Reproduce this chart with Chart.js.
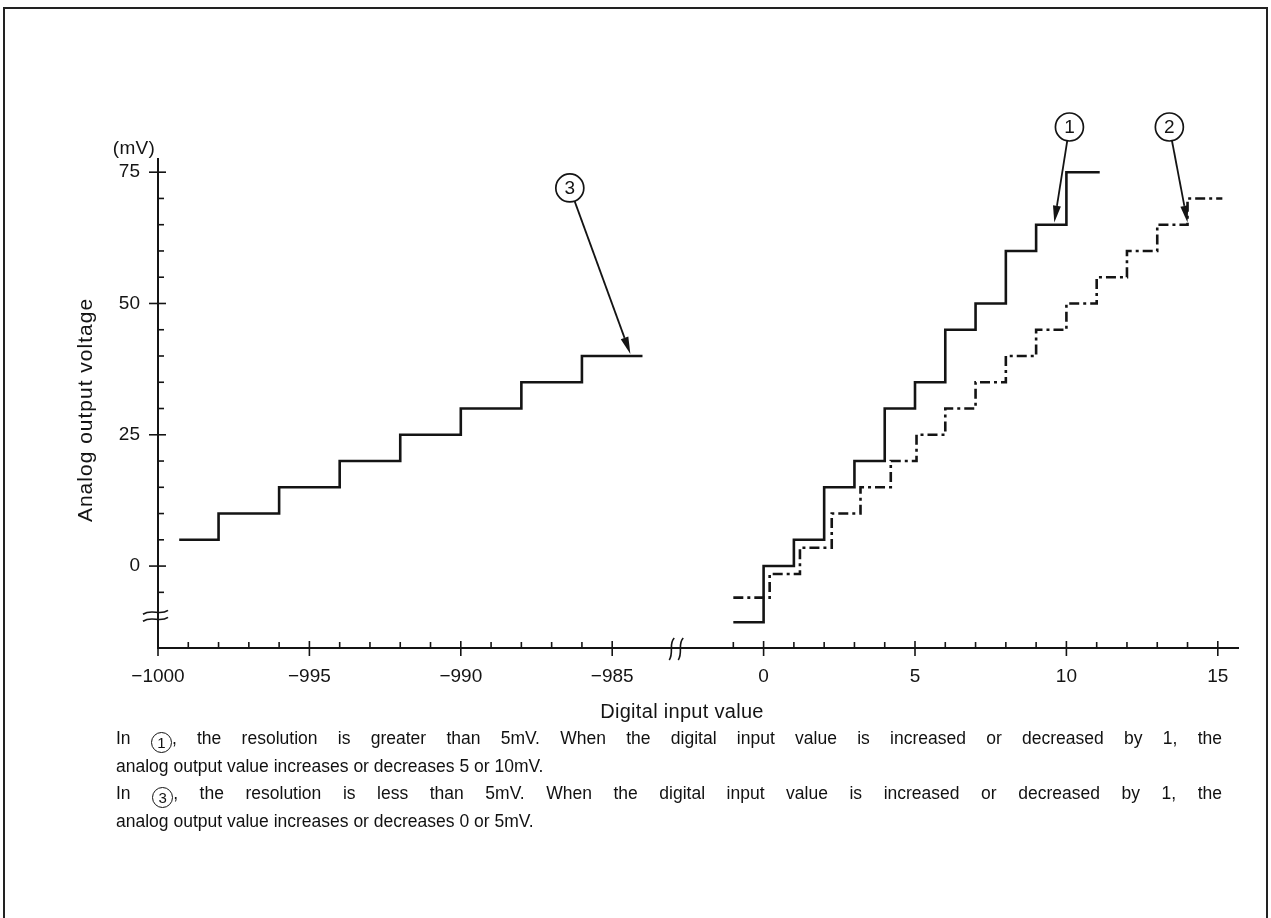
<!DOCTYPE html>
<html>
<head>
<meta charset="utf-8">
<script src="https://cdn.jsdelivr.net/npm/chart.js@4.4.1/dist/chart.umd.min.js"></script>
<style>
  html, body { margin: 0; padding: 0; background: #fff; }
  #page { position: relative; width: 1271px; height: 918px; overflow: hidden;
          font-family: 'Liberation Sans', Arial, sans-serif; color: #111; }
  #frame { position: absolute; left: 3px; top: 7px; width: 1265px; height: 940px;
           border: 2px solid #222; box-sizing: border-box; }
  #chart { position: absolute; left: 0; top: 0; }
  .note { position: absolute; left: 116px; width: 1106px; font-size: 17.5px; line-height: 26.5px; }
  .just { text-align: justify; text-align-last: justify; }
  .c { display: inline-block; width: 19px; height: 19px; border: 1.5px solid #111; border-radius: 50%;
       text-align: center; text-align-last: center; line-height: 20px; font-size: 15px; vertical-align: -4px; }
</style>
</head>
<body>
<div id="page">
  <div id="frame"></div>
  <canvas id="chart" width="1271" height="918"></canvas>
  <div class="note" style="top:725px">
    <div class="just">In <span class="c">1</span>, the resolution is greater than 5mV. When the digital input value is increased or decreased by 1, the</div>
    <div>analog output value increases or decreases 5 or 10mV.</div>
    <div class="just">In <span class="c">3</span>, the resolution is less than 5mV. When the digital input value is increased or decreased by 1, the</div>
    <div>analog output value increases or decreases 0 or 5mV.</div>
  </div>
</div>
<script>
// digital input value -> analog output (mV)
const line1X = [-1, 0, 1, 2, 3, 4, 5, 6, 7, 8, 9, 10, 11.1]
const line1Y = [-10.7, 0, 5, 15, 20, 30, 35, 45, 50, 60, 65, 75, 75]
const line2X = [-1, 0.2, 1.2, 2.25, 3.2, 4.2, 5.05, 6, 7, 8, 9, 10, 11, 12, 13, 14, 15.15]
const line2Y = [-6, -1.5, 3.5, 10, 15, 20, 25, 30, 35, 40, 45, 50, 55, 60, 65, 70, 70]
const line3X = [-999.3, -998, -996, -994, -992, -990, -988, -986, -984]
const line3Y = [5, 10, 15, 20, 25, 30, 35, 40, 40]

const xTickValues = [-1000, -995, -990, -985, 0, 5, 10, 15]
const yTickValues = [0, 25, 50, 75]

// callouts: number, circle centre, arrow tip (data units)
const markNums = ['1', '2', '3']
const markCircX = [10.1, 13.4, -986.4]
const markCircY = [83.6, 83.6, 72]
const markTipX = [9.6, 14.0, -984.4]
const markTipY = [65.4, 65.4, 40.4]

// the left block (-1000..-984) is drawn next to the right block, past the axis break
const SHIFT = 980
const toAxis = (v) => (v < -500 ? v + SHIFT : v)
const fromAxis = (u) => (u < -2.5 ? u - SHIFT : u)
const fmt = (v) => (v < 0 ? '\u2212' + Math.abs(v) : String(v))

const toPoints = (xs, ys) => xs.map((x, i) => ({ x: toAxis(x), y: ys[i] }))

const INK = '#141414'
const FONT = "'Liberation Sans', Arial, sans-serif"

const lineStyle = {
  borderColor: INK,
  borderWidth: 2.6,
  stepped: 'before',
  pointRadius: 0,
  fill: false,
  tension: 0,
}

const decorations = {
  id: 'decorations',
  afterDraw(chart) {
    const { ctx, chartArea } = chart
    const sx = chart.scales.x
    const sy = chart.scales.y
    const left = chartArea.left
    const bottom = chartArea.bottom
    ctx.save()
    ctx.strokeStyle = INK
    ctx.fillStyle = INK
    ctx.lineCap = 'butt'

    // axis lines
    ctx.lineWidth = 2
    ctx.beginPath()
    ctx.moveTo(left, chartArea.top)
    ctx.lineTo(left, bottom)
    ctx.lineTo(chartArea.right, bottom)
    ctx.stroke()

    // y ticks: majors cross the axis, minors inside
    ctx.lineWidth = 1.6
    for (let v = -5; v <= 75; v += 5) {
      const y = sy.getPixelForValue(v)
      const major = v % 25 === 0
      ctx.beginPath()
      ctx.moveTo(major ? left - 9 : left, y)
      ctx.lineTo(left + (major ? 8 : 6), y)
      ctx.stroke()
    }

    // x ticks
    const xMinor = []
    for (let v = -999; v <= -986; v++) xMinor.push(v)
    for (let v = -1; v <= 14; v++) xMinor.push(v)
    xMinor.forEach((v) => {
      if (v % 5 === 0) return
      const x = sx.getPixelForValue(toAxis(v))
      ctx.beginPath()
      ctx.moveTo(x, bottom)
      ctx.lineTo(x, bottom - 6)
      ctx.stroke()
    })
    xTickValues.forEach((v) => {
      const x = sx.getPixelForValue(toAxis(v))
      ctx.beginPath()
      ctx.moveTo(x, bottom - 7)
      ctx.lineTo(x, bottom + 8)
      ctx.stroke()
    })

    // y axis break
    ;[0, 7].forEach((dy) => {
      const y = sy.getPixelForValue(-8.8) + dy
      ctx.beginPath()
      ctx.moveTo(left - 15, y + 2)
      ctx.bezierCurveTo(left - 6, y - 4, left + 2, y + 4, left + 10, y - 2)
      ctx.stroke()
    })
    // x axis break
    const bx = sx.getPixelForValue(-3.05)
    ;[0, 9].forEach((dx) => {
      ctx.beginPath()
      ctx.moveTo(bx + dx + 3, bottom - 10)
      ctx.bezierCurveTo(bx + dx - 3, bottom - 4, bx + dx + 3, bottom + 4, bx + dx - 2, bottom + 12)
      ctx.stroke()
    })

    // callouts
    markNums.forEach((n, i) => {
      const cx = sx.getPixelForValue(toAxis(markCircX[i]))
      const cy = sy.getPixelForValue(markCircY[i])
      const tx = sx.getPixelForValue(toAxis(markTipX[i]))
      const ty = sy.getPixelForValue(markTipY[i])
      const r = 14
      ctx.lineWidth = 1.7
      ctx.beginPath()
      ctx.arc(cx, cy, r, 0, Math.PI * 2)
      ctx.stroke()
      ctx.font = '19px ' + FONT
      ctx.textAlign = 'center'
      ctx.textBaseline = 'middle'
      ctx.fillText(n, cx, cy + 1)
      const a = Math.atan2(ty - cy, tx - cx)
      const sxp = cx + Math.cos(a) * r
      const syp = cy + Math.sin(a) * r
      const hl = 17
      const hw = 4
      const bxp = tx - Math.cos(a) * hl
      const byp = ty - Math.sin(a) * hl
      ctx.lineWidth = 1.8
      ctx.beginPath()
      ctx.moveTo(sxp, syp)
      ctx.lineTo(bxp, byp)
      ctx.stroke()
      ctx.beginPath()
      ctx.moveTo(tx, ty)
      ctx.lineTo(bxp - Math.sin(a) * hw, byp + Math.cos(a) * hw)
      ctx.lineTo(bxp + Math.sin(a) * hw, byp - Math.cos(a) * hw)
      ctx.closePath()
      ctx.fill()
    })

    // titles
    ctx.textAlign = 'center'
    ctx.textBaseline = 'middle'
    ctx.font = '20px ' + FONT
    ctx.letterSpacing = '0.3px'
    ctx.fillText('Digital input value', 682, 712)
    ctx.font = '19px ' + FONT
    ctx.fillText('(mV)', 134, 149)
    ctx.translate(86, 410)
    ctx.rotate(-Math.PI / 2)
    ctx.font = '21px ' + FONT
    ctx.letterSpacing = '1px'
    ctx.fillText('Analog output voltage', 0, 0)
    ctx.restore()
  },
}

const config = {
  type: 'line',
  data: {
    datasets: [
      { label: '1', data: toPoints(line1X, line1Y), ...lineStyle },
      { label: '2', data: toPoints(line2X, line2Y), ...lineStyle, borderDash: [10, 4, 3, 4] },
      { label: '3', data: toPoints(line3X, line3Y), ...lineStyle },
    ],
  },
  options: {
    responsive: false,
    animation: false,
    layout: { autoPadding: false, padding: { left: 0, top: 158, right: 32, bottom: 0 } },
    plugins: { legend: { display: false }, tooltip: { enabled: false } },
    scales: {
      x: {
        type: 'linear',
        min: -20,
        max: 15.7,
        grid: { display: false, drawTicks: false },
        border: { display: false },
        afterBuildTicks: (s) => {
          s.ticks = xTickValues.map((v) => ({ value: toAxis(v) }))
        },
        afterFit: (s) => {
          s.height = 270
        },
        ticks: {
          callback: (v) => fmt(fromAxis(v)),
          color: INK,
          font: { family: FONT, size: 19 },
          padding: 17,
          maxRotation: 0,
          autoSkip: false,
        },
      },
      y: {
        type: 'linear',
        min: -15.6,
        max: 77.7,
        grid: { display: false, drawTicks: false },
        border: { display: false },
        afterBuildTicks: (s) => {
          s.ticks = yTickValues.map((v) => ({ value: v }))
        },
        afterFit: (s) => {
          s.width = 158
        },
        ticks: {
          callback: (v) => fmt(v),
          color: INK,
          font: { family: FONT, size: 19 },
          padding: 18,
        },
      },
    },
  },
  plugins: [decorations],
}

new Chart(document.querySelector('#chart'), config)
</script>
</body>
</html>
